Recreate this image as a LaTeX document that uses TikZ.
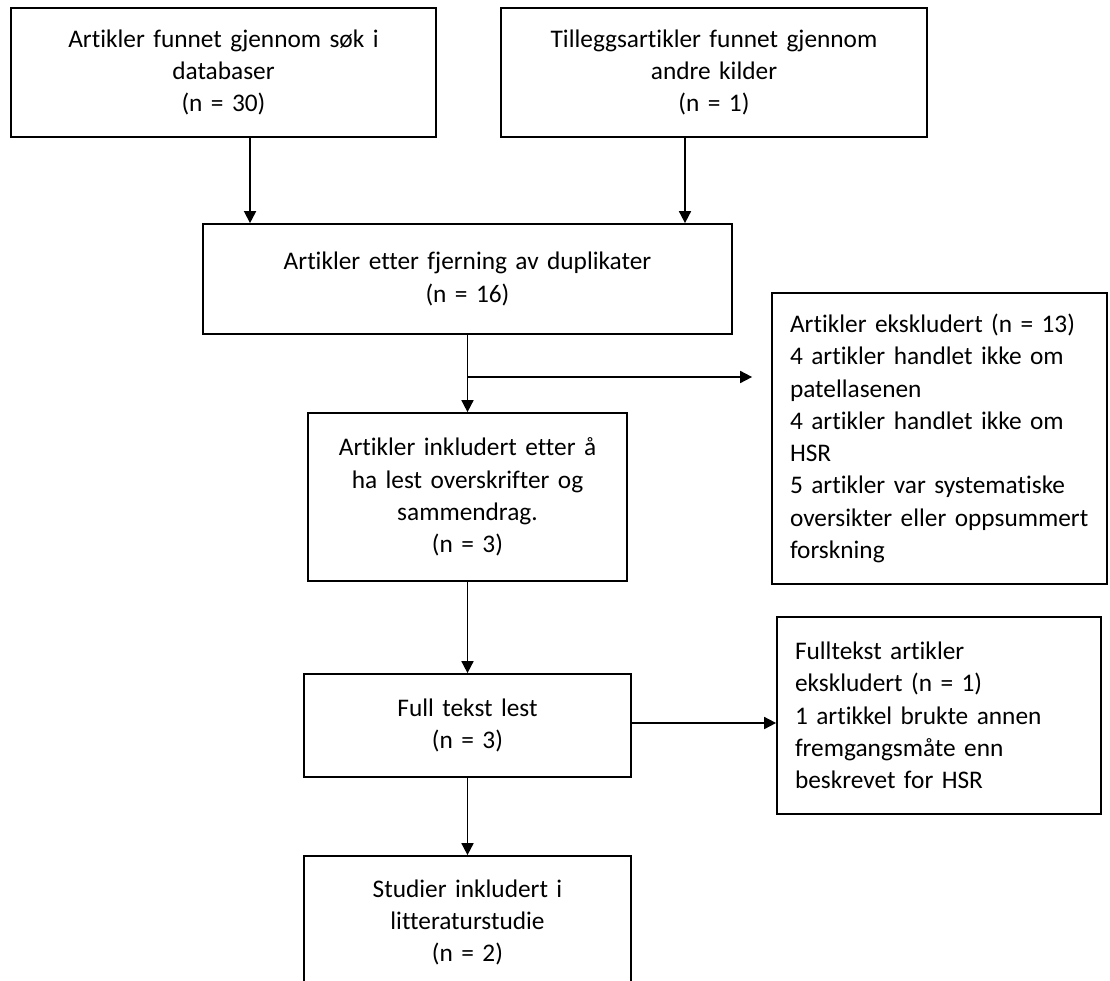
\documentclass[tikz,border=0pt]{standalone}
\usepackage{fontspec}
\setmainfont{Carlito}[Ligatures=NoCommon]
\usetikzlibrary{arrows.meta}

\begin{document}
\begin{tikzpicture}[x=0.75pt, y=-0.75pt, font=\fontsize{19}{24.2}\selectfont,
  box/.style={draw, line width=1.3pt, align=center, inner xsep=4pt, inner ysep=0pt},
  note/.style={draw, line width=1.3pt, align=left, inner xsep=13.5pt, inner ysep=0pt},
  arr/.style={line width=1.3pt, -{Triangle[length=9pt, width=9pt]}}]
  \fill[white] (0,0) rectangle (1110,981);
  \useasboundingbox (0,0) rectangle (1110,981);
  \clip (0,0) rectangle (1110,981);
  % identification
  \node[box, text width=310.75pt, minimum height=96.75pt] (dbsearch) at (223.5,72.5) {Artikler funnet gjennom søk i\\ databaser\\ (n = 30)};
  \node[box, text width=311.5pt, minimum height=96.75pt] (othersrc) at (714,72.5) {Tilleggsartikler funnet gjennom\\ andre kilder\\ (n = 1)};
  % screening
  \node[box, text width=388.75pt, minimum height=82.5pt] (dedup) at (467.5,279) {Artikler etter fjerning av duplikater\\ (n = 16)};
  \node[box, text width=231.25pt, minimum height=126pt] (screened) at (467.5,497) {Artikler inkludert etter å\\ ha lest overskrifter og\\ sammendrag.\\ (n = 3)};
  \node[note, text width=224.25pt, minimum height=218.25pt] (excl1) at (939.5,438.5) {Artikler ekskludert (n = 13)\\ 4 artikler handlet ikke om\\ patellasenen\\ 4 artikler handlet ikke om\\ HSR\\ 5 artikler var systematiske\\ oversikter eller oppsummert\\ forskning};
  % eligibility
  \node[box, text width=237.25pt, minimum height=77.25pt] (fulltext) at (467.5,725.5) {Full tekst lest\\ (n = 3)};
  \node[note, text width=216pt, minimum height=147.75pt] (excl2) at (939,715.5) {Fulltekst artikler\\ ekskludert (n = 1)\\ 1 artikkel brukte annen\\ fremgangsmåte enn\\ beskrevet for HSR};
  % included
  \node[box, text width=237.25pt, minimum height=99.75pt] (included) at (467.5,922.5) {Studier inkludert i\\ litteraturstudie\\ (n = 2)};
  % arrows
  \draw[arr] ([xshift=19.9pt]dbsearch.south) -- ([xshift=19.9pt]dbsearch.south |- dedup.north);
  \draw[arr] ([xshift=-21.75pt]othersrc.south) -- ([xshift=-21.75pt]othersrc.south |- dedup.north);
  \draw[arr] (dedup) -- (screened);
  \coordinate (split) at (467.5,377);
  \draw[arr] (split) -- ([xshift=-14.25pt]split -| excl1.west);
  \draw[arr] (screened) -- (fulltext);
  \draw[arr] (fulltext.east |- 0,723) -- (excl2.west |- 0,723);
  \draw[arr] (fulltext) -- (included);
\end{tikzpicture}
\end{document}
